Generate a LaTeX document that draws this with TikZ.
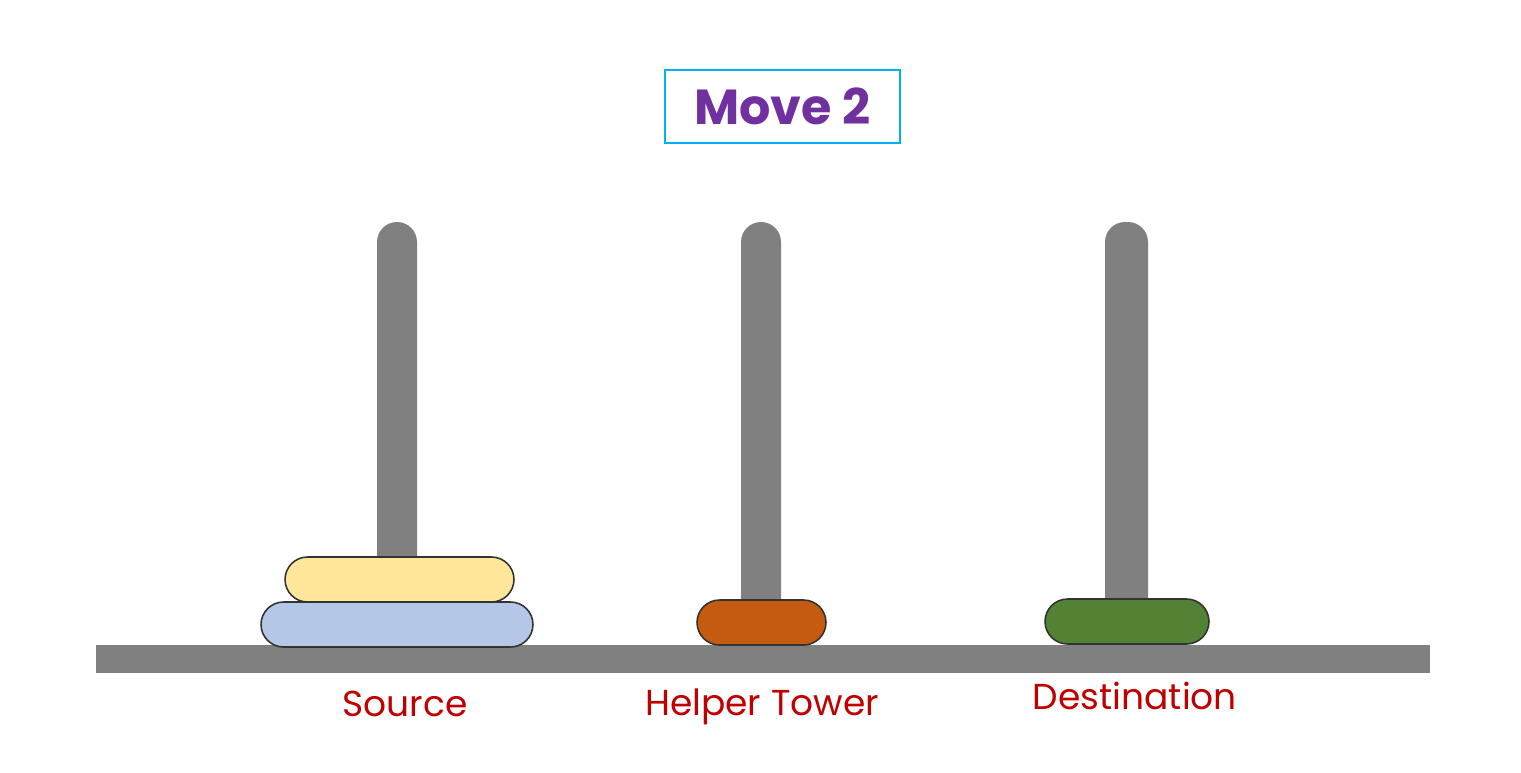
\documentclass[tikz,border=0pt]{standalone}
\usepackage{fontspec}
\setmainfont{Poppins}
\usetikzlibrary{positioning}
\definecolor{pegcol}{HTML}{808080}
\definecolor{discyellow}{HTML}{FFE699}
\definecolor{discblue}{HTML}{B4C7E7}
\definecolor{discorange}{HTML}{C55A11}
\definecolor{discgreen}{HTML}{548235}
\definecolor{labelred}{HTML}{C00000}
\definecolor{titlepurple}{HTML}{7030A0}
\definecolor{titlecyan}{HTML}{00B0F0}
\tikzset{
  disc/.style={draw=black!80, line width=0.9pt, rectangle, rounded corners=0.45cm, minimum height=0.9cm, inner sep=0},
  towerlabel/.style={text=labelred, font=\fontsize{20.5}{24}\selectfont, inner sep=0, anchor=base},
  peg/.style={fill=pegcol, rounded corners=0.4cm}
}
\begin{document}
\begin{tikzpicture}[x=0.02cm, y=-0.02cm]
\useasboundingbox (0,0) rectangle (1521,772);
% title
\node[draw=titlecyan, line width=1.4pt, rectangle, minimum width=4.7cm, minimum height=1.46cm, text=titlepurple, font=\fontsize{28}{32}\bfseries\selectfont] (title) at (782.5,106.5) {Move 2};
% pegs
\fill[peg] (377,660) -- (377,222) -- (417,222) [sharp corners] -- (417,660) -- cycle;
\fill[peg] (741,660) -- (741,222) -- (781,222) [sharp corners] -- (781,660) -- cycle;
\fill[peg] (1105,660) -- (1105,222) -- (1148,222) [sharp corners] -- (1148,660) -- cycle;
% base
\node[fill=pegcol, rectangle, minimum width=26.68cm, minimum height=0.56cm, inner sep=0] (base) at (763,659) {};
% discs
\node[disc, fill=discblue, minimum width=5.44cm] (blue) at (397,624.5) {};
\node[disc, fill=discyellow, minimum width=4.58cm] (yellow) at (399.5,579.5) {};
\node[disc, fill=discorange, minimum width=2.58cm] (orange) at (761.5,622.5) {};
\node[disc, fill=discgreen, minimum width=3.28cm] (green) at (1127,621.5) {};
% labels
\node[towerlabel] (source) at (405,716) {Source};
\node[towerlabel] (helper) at (762,715) {Helper Tower};
\node[towerlabel] (dest) at (1135,709) {Destination};
\end{tikzpicture}
\end{document}
